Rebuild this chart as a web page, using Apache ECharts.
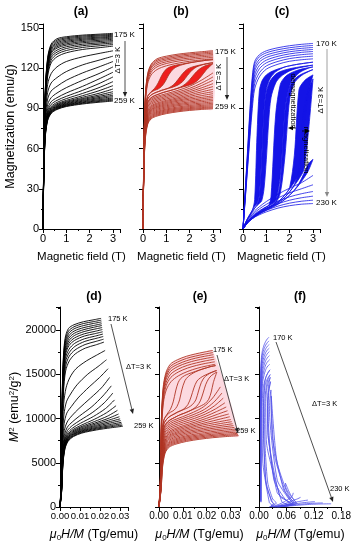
<!DOCTYPE html>
<html><head><meta charset="utf-8">
<script src="https://cdn.jsdelivr.net/npm/echarts@6/dist/echarts.min.js"></script>
<style>html,body{margin:0;padding:0;background:#fff}#c{width:354px;height:550px}</style>
</head><body><div id="c"></div>
<script>
// ---------- Panel (a): M(H), black ----------
const fieldA = [0, 0.04, 0.1, 0.2, 0.35, 0.6, 1, 1.7, 2.4, 3];
const tempsA = [175,178,181,184,187,190,193,196,199,202,205,208,211,214,217,220,223,226,229,232,235,238,241,244,247,250,253,256,259];
const magA = [
[0,60,105,128,138,142,143.5,144.7,145.4,146],
[0,59,104,127,137,141,142.7,144,144.7,145.3],
[0,58,103,126,136,140,141.9,143.2,144,144.6],
[0,57,102,125,135,139,141,142.4,143.2,143.9],
[0,56,101,124,134,138,140.1,141.6,142.5,143.2],
[0,56,100,123,133,137,139.2,140.8,141.7,142.4],
[0,55,99,122,132,136,138.2,139.9,140.8,141.6],
[0,55,98,121,131,135,137.2,139,139.9,140.7],
[0,54,97,119,129.5,133.5,136,137.9,138.9,139.8],
[0,54,96,118,128,132,134.7,136.8,137.9,138.8],
[0,53,95,116,126,130.5,133.2,135.5,136.7,137.7],
[0,53,93,114,124,128.5,131.5,134,135.3,136.5],
[0,52,90,108,116,121,125,128.5,131,133],
[0,52,87,102,109,113,117.5,122.5,126,129],
[0,51,84,97,103,106.5,111,116.5,121,125],
[0,51,81,93,98,101.5,105.5,111,116,121],
[0,50,79,90,95,98,101.5,106.5,112,117],
[0,50,77,88,93,96,99,103.5,108.5,113.5],
[0,49,76,87,91.5,94.5,97.3,101.2,105.5,110],
[0,49,75,86,90.5,93.5,96,99.5,103.2,107],
[0,48,74,85,89.8,92.8,95.2,98.3,101.3,104.5],
[0,48,73,84.5,89.2,92.2,94.6,97.4,100,102.5],
[0,47,72,84,88.7,91.7,94,96.7,99,101],
[0,47,71.5,83.5,88.2,91.2,93.5,96,98.1,99.8],
[0,46,71,83,87.8,90.8,93,95.4,97.3,98.8],
[0,46,70.5,82.5,87.4,90.4,92.6,94.8,96.5,97.8],
[0,45,70,82,87,90,92.2,94.3,95.8,97],
[0,45,69.5,81.5,86.6,89.6,91.8,93.8,95.2,96.2],
[0,44,69,81,86.2,89.2,91.4,93.3,94.6,95.5]
];

// ---------- Panel (b): M(H), red ----------
const fieldB = [0, 0.04, 0.1, 0.2, 0.35, 0.6, 1, 1.5, 2, 2.5, 3];
const tempsB = [175,178,181,184,187,190,193,205,208,211,214,217,220,223,226,229,232,235,238,241,244,247,250,253,256,259];
const magB = [
[0,62,100,116,123,127,129,130.5,131.5,132.3,133],
[0,61,99,115,122,126,128,129.6,130.6,131.4,132.1],
[0,60,98,114,121,125,127,128.6,129.7,130.5,131.2],
[0,59,97,113,120,123.8,126,127.6,128.7,129.5,130.2],
[0,58,96,112,118.5,122.5,124.8,126.5,127.6,128.5,129.2],
[0,58,95,110,117,121,123.5,125.3,126.5,127.4,128.1],
[0,57,94,108.5,115,119,121.8,123.8,125.2,126.2,127],
[0,54,85,94,97,99,101,103.5,106.5,111,116.5],
[0,53,84,93,96,98,100,102.3,105,108.8,113.5],
[0,53,83,92,95,97,99,101.2,103.7,107,111],
[0,52,82,91,94,96,98,100.1,102.5,105.3,108.5],
[0,52,81,90,93,95,97,99,101.3,103.8,106.3],
[0,51,80,89,92,94,96,98,100.1,102.3,104.3],
[0,51,79,88,91.2,93.2,95.2,97.1,99,100.9,102.5],
[0,50,78,87,90.4,92.4,94.4,96.2,97.9,99.5,101],
[0,50,77,86,89.6,91.6,93.6,95.4,96.9,98.2,99.4],
[0,49,76,85.2,88.9,90.9,92.8,94.5,95.9,97.1,98.2],
[0,49,75,84.4,88.2,90.2,92,93.6,94.9,96,97],
[0,48,74,83.6,87.4,89.4,91.2,92.8,94,95,95.9],
[0,48,73,82.8,86.6,88.6,90.4,92,93.1,94,94.8],
[0,47,72,82,85.8,87.8,89.6,91.1,92.2,93.1,93.8],
[0,47,71,81.2,85,87.1,88.9,90.3,91.4,92.2,92.9],
[0,46,70,80.4,84.3,86.4,88.2,89.6,90.6,91.4,92],
[0,46,69,79.6,83.6,85.7,87.5,88.9,89.9,90.6,91.2],
[0,45,68,78.8,82.9,85,86.8,88.2,89.2,89.9,90.5],
[0,45,67,78,82.2,84.3,86.1,87.5,88.5,89.2,89.8]
];
const fieldBS = [0, 0.04, 0.1, 0.2, 0.35, 0.5, 0.65, 0.8, 0.95, 1.1, 1.3, 1.5, 1.7, 1.9, 2.1, 2.3, 2.5, 2.7, 3];
const loopTempsB = [196, 199, 202];
const loopUpB = [
[0,56,90,99,102,103.5,104.5,106.5,110,115,119.5,121.5,122.7,123.6,124.3,124.9,125.4,125.9,126.4],
[0,55,88,97,100,101.5,102.5,103.5,104.3,105,106,107.5,110,114.5,118.5,121,122.3,123.2,124.2],
[0,54,86,95,98,99.5,100.5,101.5,102.3,103,104,105,106,107,108.2,110.3,114,118.5,123.5]
];
const loopDownB = [
[0,56,90,99,102.5,105,109,114.5,118.5,120.5,121.8,122.6,123.2,123.8,124.4,124.9,125.4,125.9,126.4],
[0,55,88,97,100,101.5,102.5,103.5,104.3,105.3,107.5,111.5,116,119.3,120.8,121.8,122.6,123.3,124.2],
[0,54,86,95,98,99.5,100.5,101.5,102.3,103,104,105.2,106.8,109.5,113.5,117.5,120.3,122,123.5]
];

// ---------- Panel (c): M(H), blue ----------
const fieldC = [0, 0.1, 0.2, 0.3, 0.4, 0.5, 0.7, 1, 1.5, 2, 2.5, 3];
const tempsC = [170,173,176,179,182,185,188,191,215,218,221,224,227,230];
const magC = [
[0,30,60,90,114,125,130,133,135.3,136.8,137.8,138.5],
[0,29,58,87,111,123,128.5,131.5,133.8,135.3,136.3,137],
[0,28,56,84,108,120.5,126.5,129.8,132.2,133.8,134.8,135.5],
[0,27,54,81,105,118,124.5,128,130.6,132.3,133.3,134],
[0,26,52,78,101.5,115,122,126,128.9,130.7,131.8,132.5],
[0,25,50,75,98,112,119.5,124,127.1,129,130.1,130.8],
[0,24,48,72,94,108.5,116.5,121.7,125.1,127.2,128.3,129],
[0,23,46,69,90,104.5,113.5,119.3,123,125.2,126.3,127],
[0,4.5,7.5,9.8,11.8,13.6,16.6,20.5,26,30.5,34.5,40],
[0,4,6.8,8.9,10.7,12.3,15,18.4,23.2,27,30,33],
[0,3.7,6.2,8.1,9.8,11.2,13.6,16.6,20.8,24,26.3,28],
[0,3.4,5.7,7.5,9,10.3,12.4,15.1,18.8,21.5,23.3,24.5],
[0,3.1,5.3,7,8.4,9.6,11.5,13.9,17.1,19.3,20.7,21.5],
[0,2.9,4.9,6.5,7.8,8.9,10.6,12.8,15.6,17.4,18.5,19]
];
const fieldCL = [0, 0.2, 0.4, 0.5, 0.6, 0.7, 0.8, 0.9, 1.0, 1.1, 1.2, 1.4, 1.6, 1.8, 2.0, 2.2, 2.4, 2.6, 2.8, 3.0];
const loopTempsC = [194, 197, 200, 203, 206, 209, 212];
const loopUpC = [
[0,8,14,17,19,26,55,90,104,110,113.5,117.3,119.4,121,121.8,122.5,123.1,123.6,124.1,124.5],
[0,7.5,13,15.5,17.5,19,21,30,52,80,98,109,113.5,116,118,119.3,120.3,121,121.7,122.3],
[0,5.5,9,10.5,11.8,13,14.2,15.3,16.4,17.4,18.4,21,40,90,107,113,116.5,118.5,120,121],
[0,5,8.5,10,11.3,12.5,13.6,14.6,15.5,16.4,17.3,19.5,27,55,97,109,113,115.6,117.4,119],
[0,5,8.3,9.7,11,12.2,13.3,14.3,15.2,16.1,17,19,21.8,25.5,30,35,42,75,102,115],
[0,4.8,8,9.4,10.6,11.7,12.8,13.8,14.7,15.6,16.5,18.4,20.8,23.8,27.8,32.5,37.5,44,72,112],
[0,4.6,7.7,9,10.2,11.3,12.3,13.2,14.1,15,15.8,17.6,19.7,22.2,25.3,28.8,33,37.8,43.5,52]
];
const loopDownC = [
[0,8,14,22,70,103,110,113,115,116.3,117.3,118.8,120,121,121.8,122.5,123.1,123.6,124.1,124.5],
[0,7.5,13,15.5,18,24,50,88,102,108,111.5,115.5,117.5,118.7,119.6,120.3,120.9,121.4,121.9,122.3],
[0,5.5,9,10.5,11.8,13,14.2,15.3,16.4,17.5,24,85,108,113.5,116,117.6,118.8,119.7,120.4,121],
[0,5,8.5,10,11.3,12.5,13.6,14.6,15.5,16.4,17.3,20,35,88,106,111.5,114.5,116.3,117.7,119],
[0,5,8.3,9.7,11,12.2,13.3,14.3,15.2,16.1,17,19,21.8,25.5,31,55,104,110,113,115],
[0,4.8,8,9.4,10.6,11.7,12.8,13.8,14.7,15.6,16.5,18.4,20.8,23.8,27.8,33,45,88,104,112],
[0,4.6,7.7,9,10.2,11.3,12.3,13.2,14.1,15,15.8,17.6,19.7,22.2,25.3,29,34,41,48.5,52]
];

// ---------- helpers ----------
const FONT = 'Liberation Sans, Arial, sans-serif';
function pairs(f, m) { return f.map((h, i) => [h, m[i]]); }
function arrott(f, m, withOrigin) {
  const out = [];
  f.forEach((h, i) => { const v = m[i]; if (v > 0) out.push([h / v, v * v]); else if (withOrigin) out.push([0, 0]); });
  return out;
}
function line(ax, data, color, width, sm) {
  return { type: 'line', xAxisIndex: ax, yAxisIndex: ax, data, symbol: 'none', showSymbol: false,
    smooth: sm === undefined ? 0.3 : sm, lineStyle: { color, width }, silent: true, animation: false, z: 3 };
}
function poly(ax, polys, fill, z) {
  return { type: 'custom', xAxisIndex: ax, yAxisIndex: ax, z, silent: true, animation: false, clip: true,
    data: polys.map((p, i) => [p[0][0], p[0][1], i]), encode: { x: 0, y: 1 },
    renderItem: (params, api) => {
      const p = polys[api.value(2)];
      return { type: 'polygon', shape: { points: p.map(q => api.coord(q)), smooth: 0.3 }, style: { fill } };
    } };
}

const series = [];
const RED = '#b03525', REDFILL = '#ee1d1d', PINK = '#fcd9e0', BLUE = '#1414e6', BLUEF = '#5252ea';

// (a) & (d)
magA.forEach(m => { series.push(line(0, pairs(fieldA, m), '#000', 0.9)); series.push(line(3, arrott(fieldA, m, true), '#000', 0.9)); });

// (b) & (e)
series.push(poly(1, [pairs(fieldB, magB[0]).concat(pairs(fieldB, magB[magB.length - 1]).reverse())], PINK, 1));
series.push(poly(4, [arrott(fieldB, magB[0], true).concat(arrott(fieldB, magB[magB.length - 1], true).reverse())], PINK, 1));
loopTempsB.forEach((T, k) => {
  const up = pairs(fieldBS, loopUpB[k]), dn = pairs(fieldBS, loopDownB[k]);
  series.push(poly(1, [up.concat(dn.slice().reverse())], REDFILL, 2));
  series.push(line(1, up, RED, 0.9)); series.push(line(1, dn, RED, 0.9));
  series.push(line(4, arrott(fieldBS, loopUpB[k], true), RED, 0.9));
  series.push(line(4, arrott(fieldBS, loopDownB[k], true), RED, 0.9));
});
magB.forEach(m => { series.push(line(1, pairs(fieldB, m), RED, 0.9)); series.push(line(4, arrott(fieldB, m, true), RED, 0.9)); });

// (c) & (f)
magC.forEach(m => { series.push(line(2, pairs(fieldC, m), BLUE, 0.8)); series.push(line(5, arrott(fieldC, m, false), BLUEF, 0.8, 0.2)); });
loopTempsC.forEach((T, k) => {
  const up = pairs(fieldCL, loopUpC[k]), dn = pairs(fieldCL, loopDownC[k]);
  series.push(poly(2, [up.concat(dn.slice().reverse())], BLUE, 2));
  series.push(line(2, up, BLUE, 0.8)); series.push(line(2, dn, BLUE, 0.8));
  series.push(line(5, arrott(fieldCL, loopUpC[k], false), BLUEF, 0.8, 0.2));
  series.push(line(5, arrott(fieldCL, loopDownC[k], false), BLUEF, 0.8, 0.2));
});

// ---------- axes ----------
const grids = [
  { left: 43, top: 24, width: 77, height: 205 },
  { left: 143, top: 24, width: 77, height: 205 },
  { left: 243, top: 24, width: 77, height: 205 },
  { left: 60, top: 307, width: 68, height: 200 },
  { left: 159, top: 307, width: 81, height: 200 },
  { left: 259, top: 307, width: 84, height: 200 }
];
const axLine = { show: true, onZero: false, lineStyle: { color: '#000', width: 1 } };
const tick = { show: true, length: 4, lineStyle: { color: '#000', width: 1 } };
const minor = { show: true, splitNumber: 2, length: 2, lineStyle: { color: '#000', width: 1 } };
function near(v, step) { return Math.abs(v / step - Math.round(v / step)) < 1e-6; }
const bottomName = '{i|μ}{s|0}{i|H/M} (Tg/emu)';
const bottomNameStyle = { fontSize: 12.5, color: '#000', fontFamily: FONT,
  rich: { i: { fontStyle: 'italic', fontSize: 12.5, fontFamily: FONT }, s: { fontSize: 8, fontFamily: FONT, verticalAlign: 'bottom', padding: [6, 0, 0, 0] } } };
function xAx(gi, min, max, interval, fmt, fs, name, nameStyle, nameGap) {
  return { gridIndex: gi, type: 'value', min, max, interval, axisLine: axLine, axisTick: tick, minorTick: minor,
    splitLine: { show: false }, minorSplitLine: { show: false },
    axisLabel: { show: true, interval: 0, showMinLabel: true, fontSize: fs, color: '#000', fontFamily: FONT, margin: 4, formatter: fmt, hideOverlap: false },
    name, nameLocation: 'middle', nameGap, nameTextStyle: nameStyle };
}
function yAx(gi, min, max, interval, showLabel, name, nameStyle, nameGap) {
  return { gridIndex: gi, type: 'value', min, max, interval, axisLine: axLine, axisTick: tick, minorTick: minor,
    splitLine: { show: false }, minorSplitLine: { show: false },
    axisLabel: { show: showLabel, interval: 0, showMinLabel: true, fontSize: 11, color: '#000', fontFamily: FONT, margin: 4,
      formatter: v => near(v, interval) ? String(Math.round(v)) : '' },
    name: name || '', nameLocation: 'middle', nameGap: nameGap || 0, nameTextStyle: nameStyle };
}
const topNameStyle = { fontSize: 11.5, color: '#000', fontFamily: FONT };
const fmtInt = v => near(v, 1) ? String(Math.round(v)) : '';
const fmt2 = step => v => near(v, step) ? v.toFixed(2) : '';
const xAxes = [
  xAx(0, 0, 3.3, 1, fmtInt, 11, 'Magnetic field (T)', topNameStyle, 22),
  xAx(1, 0, 3.3, 1, fmtInt, 11, 'Magnetic field (T)', topNameStyle, 22),
  xAx(2, 0, 3.3, 1, fmtInt, 11, 'Magnetic field (T)', topNameStyle, 22),
  xAx(3, 0, 0.034, 0.01, fmt2(0.01), 9.5, bottomName, bottomNameStyle, 21),
  xAx(4, 0, 0.034, 0.01, fmt2(0.01), 10, bottomName, bottomNameStyle, 21),
  xAx(5, 0, 0.181, 0.06, fmt2(0.06), 10, bottomName, bottomNameStyle, 21)
];
const yAxes = [
  yAx(0, 0, 153, 30, true, 'Magnetization (emu/g)', { fontSize: 12.5, color: '#000', fontFamily: FONT }, 25),
  yAx(1, 0, 153, 30, false),
  yAx(2, 0, 153, 30, false),
  yAx(3, 0, 22600, 5000, true, '{i|M}{p|2} (emu{p|2}/g{p|2})', { fontSize: 12.5, color: '#000', fontFamily: FONT,
    rich: { i: { fontStyle: 'italic', fontSize: 12.5, fontFamily: FONT }, p: { fontSize: 8, fontFamily: FONT, verticalAlign: 'top', padding: [0, 0, 6, 0] } } }, 38),
  yAx(4, 0, 22600, 5000, false),
  yAx(5, 0, 22600, 5000, false)
];

// ---------- annotations ----------
function txt(x, y, text, size, opt) {
  opt = opt || {};
  return { type: 'text', x, y, rotation: opt.rot || 0, silent: true, z: 100,
    style: { text, fill: opt.color || '#000', font: (opt.bold ? 'bold ' : '') + size + 'px ' + FONT,
      align: opt.align || 'center', verticalAlign: 'middle', textAlign: opt.align || 'center', textVerticalAlign: 'middle' } };
}
function arrow(x1, y1, x2, y2, color) {
  const dx = x2 - x1, dy = y2 - y1, L = Math.hypot(dx, dy), ux = dx / L, uy = dy / L;
  const hl = 5, hw = 2.2, bx = x2 - ux * hl, by = y2 - uy * hl;
  return [
    { type: 'line', silent: true, z: 100, shape: { x1, y1, x2: bx, y2: by }, style: { stroke: color, lineWidth: 0.8 } },
    { type: 'polygon', silent: true, z: 100, shape: { points: [[x2, y2], [bx - uy * hw, by + ux * hw], [bx + uy * hw, by - ux * hw]] }, style: { fill: color } }
  ];
}
const graphic = [
  txt(81, 12, '(a)', 12, { bold: true }), txt(181, 12, '(b)', 12, { bold: true }), txt(282, 12, '(c)', 12, { bold: true }),
  txt(94, 297, '(d)', 12, { bold: true }), txt(200, 297, '(e)', 12, { bold: true }), txt(300, 297, '(f)', 12, { bold: true }),
  txt(114, 35, '175 K', 8, { align: 'left' }), txt(114, 101, '259 K', 8, { align: 'left' }),
  txt(118, 60, 'ΔT=3 K', 8, { rot: Math.PI / 2 }),
  ...arrow(125, 41, 125, 97, '#222'),
  txt(215, 52, '175 K', 8, { align: 'left' }), txt(215, 107, '259 K', 8, { align: 'left' }),
  txt(219, 77, 'ΔT=3 K', 8, { rot: Math.PI / 2 }),
  ...arrow(227, 57, 227, 100, '#222'),
  txt(316, 44, '170 K', 8, { align: 'left' }), txt(316, 203, '230 K', 8, { align: 'left' }),
  txt(321, 100, 'ΔT=3 K', 8, { rot: Math.PI / 2 }),
  ...arrow(327, 49, 327, 197, '#888'),
  txt(293, 101, 'demagnetization', 7.5, { rot: -Math.PI / 2 }),
  ...arrow(296, 128, 288, 128, '#000'),
  txt(306, 150, 'magnetization', 7.5, { rot: -Math.PI / 2 }),
  ...arrow(302, 131, 310, 131, '#000'),
  txt(108, 319, '175 K', 7.5, { align: 'left' }), txt(134, 426, '259 K', 7.5, { align: 'left' }),
  txt(126, 367, 'ΔT=3 K', 7.5, { align: 'left' }),
  ...arrow(111, 324, 133, 414, '#222'),
  txt(213, 350, '175 K', 7.5, { align: 'left' }), txt(236, 431, '259 K', 7.5, { align: 'left' }),
  txt(224, 379, 'ΔT=3 K', 7.5, { align: 'left' }),
  ...arrow(217, 355, 238, 433, '#222'),
  txt(273, 338, '170 K', 7.5, { align: 'left' }), txt(330, 489, '230 K', 7.5, { align: 'left' }),
  txt(312, 404, 'ΔT=3 K', 7.5, { align: 'left' }),
  ...arrow(276, 342, 333, 502, '#222')
];

const chart = echarts.init(document.getElementById('c'), null, { renderer: 'canvas' });
chart.setOption({ animation: false, backgroundColor: '#fff', grid: grids, xAxis: xAxes, yAxis: yAxes, series, graphic });
</script></body></html>
